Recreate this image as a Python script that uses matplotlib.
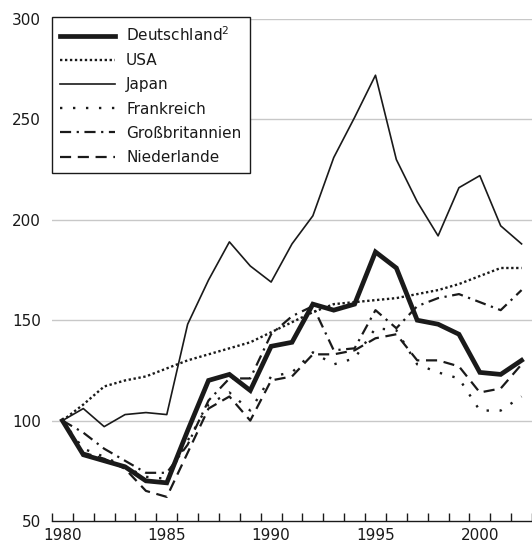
import matplotlib
matplotlib.use("Agg")
import matplotlib.pyplot as plt

# Daten (Index 1980 = 100)
jahre = list(range(1980, 2003))
deutschland = [100, 83, 80, 77, 70, 69, 95, 120, 123, 115, 137, 139,
               158, 155, 158, 184, 176, 150, 148, 143, 124, 123, 130]
usa = [100, 108, 117, 120, 122, 126, 130, 133, 136, 139, 144, 149,
       154, 158, 159, 160, 161, 163, 165, 168, 172, 176, 176]
japan = [100, 106, 97, 103, 104, 103, 148, 170, 189, 177, 169, 188,
         202, 231, 251, 272, 230, 209, 192, 216, 222, 197, 188]
frankreich = [100, 86, 82, 77, 72, 71, 90, 108, 114, 105, 122, 124,
              134, 128, 131, 146, 145, 128, 124, 121, 105, 105, 112]
grossbritannien = [100, 94, 86, 80, 74, 74, 88, 110, 121, 121, 143, 152,
                   157, 135, 136, 155, 146, 157, 161, 163, 159, 155, 165]
niederlande = [100, 84, 81, 76, 65, 62, 84, 106, 112, 100, 120, 122,
               133, 133, 135, 141, 143, 130, 130, 127, 114, 116, 128]

plt.rcParams['font.family'] = ['DejaVu Sans']

fig = plt.figure(figsize=(5.32, 5.54), dpi=100)
ax = fig.add_axes([52 / 532, 33 / 554, 1 - 52 / 532, (521 - 19) / 554])

ax.plot(jahre, deutschland, color='#1a1a1a', lw=3.4, label='Deutschland$^{2}$',
        solid_joinstyle='miter')
ax.plot(jahre, usa, color='#1a1a1a', lw=1.7, linestyle=(0, (1, 1.1)), label='USA')
ax.plot(jahre, japan, color='#1a1a1a', lw=1.2, label='Japan')
ax.plot(jahre, frankreich, color='#1a1a1a', lw=1.7, linestyle=(0, (1, 4.5)),
        label='Frankreich')
ax.plot(jahre, grossbritannien, color='#1a1a1a', lw=1.6,
        linestyle=(0, (5, 2.5, 1, 2.5)), label='Großbritannien')
ax.plot(jahre, niederlande, color='#1a1a1a', lw=1.6, linestyle=(0, (5, 3)),
        label='Niederlande')

ax.set_xlim(1979.5, 2002.5)
ax.set_ylim(50, 300)

# Achsen
for s in ['left', 'right', 'top']:
    ax.spines[s].set_visible(False)
ax.spines['bottom'].set_color('#1a1a1a')
ax.spines['bottom'].set_linewidth(1.0)

ax.set_yticks([50, 100, 150, 200, 250, 300])
ax.tick_params(axis='y', length=0, pad=8, labelsize=11, labelcolor='#1a1a1a')
for v in [100, 150, 200, 250, 300]:
    ax.axhline(v, color='#c8c8c8', lw=1.0, zorder=0)

ax.set_xticks([j - 0.5 for j in jahre] + [2002.5])
ax.set_xticklabels([])
ax.tick_params(axis='x', which='major', direction='in', length=6,
               width=1.0, color='#1a1a1a')
ax.set_xticks([1980, 1985, 1990, 1995, 2000], minor=True)
ax.set_xticklabels(['1980', '1985', '1990', '1995', '2000'], minor=True)
ax.tick_params(axis='x', which='minor', length=0, pad=5, labelsize=11,
               labelcolor='#1a1a1a')

leg = ax.legend(loc='upper left', bbox_to_anchor=(0, 1.004), borderaxespad=0,
                fontsize=11, handlelength=3.6, handletextpad=0.7,
                labelspacing=0.6, borderpad=0.55, fancybox=False,
                framealpha=1, edgecolor='#1a1a1a')
leg.get_frame().set_linewidth(1.0)
for t in leg.get_texts():
    t.set_color('#1a1a1a')

fig.savefig('out.png', dpi=100)
